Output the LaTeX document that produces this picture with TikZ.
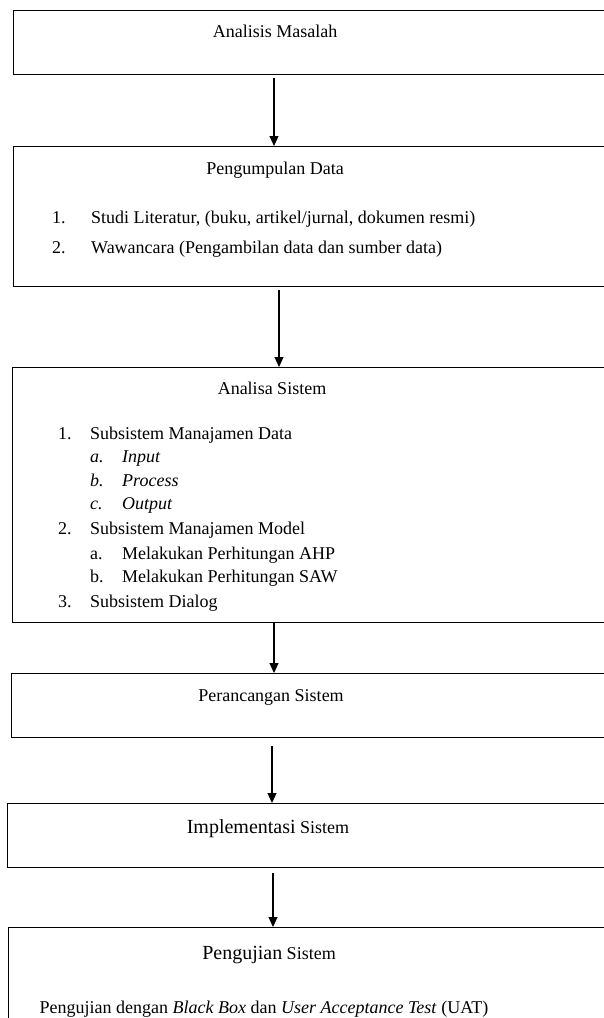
\documentclass[tikz,border=0pt]{standalone}
\usepackage{fontspec}
\setmainfont{Liberation Serif}
\usetikzlibrary{arrows.meta}

\tikzset{
  box/.style={draw, line width=1.4pt, rectangle, anchor=north west,
    minimum width=640pt, inner sep=0pt},
  txt/.style={inner sep=0pt, anchor=base, font=\fontsize{18}{22}\selectfont},
  flow/.style={-{Triangle[length=10pt,width=9pt]}, line width=1.1pt}
}

\begin{document}
\begin{tikzpicture}[x=1pt,y=-1pt]
  \useasboundingbox (0,0) rectangle (604,1018);
  \def \Boxes {
    b1/13/9.5/64.5,
    b2/13/146/140,
    b3/12/367/255,
    b4/11/673/64,
    b5/7/803/64,
    b6/8/927/130}
  \def \Flows {
    b1/b2/274/3,
    b2/b3/279/3,
    b3/b4/274/0,
    b4/b5/272/8,
    b5/b6/273/5}

  \foreach \id / \x / \y / \h in \Boxes {
    \node[box, minimum height=\h pt] (\id) at (\x, \y) {};
  }

  % judul tiap tahap
  \node[txt] (t1) at (275, 37) {Analisis Masalah};
  \node[txt] (t2) at (275, 174) {Pengumpulan Data};
  \node[txt] (t3) at (272, 394) {Analisa Sistem};
  \node[txt] (t4) at (271, 701) {Perancangan Sistem};
  \node[txt] (t5) at (268, 833) {{\fontsize{20}{24}\selectfont Implementasi} Sistem};
  \node[txt] (t6) at (269, 959) {{\fontsize{20}{24}\selectfont Pengujian} Sistem};
  \node[txt] (uat) at (264, 1013)
    {Pengujian dengan \textit{Black Box} dan \textit{User Acceptance Test} (UAT)};

  % isi pengumpulan data
  \foreach \y / \num / \t [count=\i] in {
      223/1./{Studi Literatur, (buku, artikel/jurnal, dokumen resmi)},
      253/2./{Wawancara (Pengambilan data dan sumber data)}} {
    \node[txt, anchor=base west] (pn\i) at (52, \y) {\num};
    \node[txt, anchor=base west] (p\i) at (91, \y) {\t};
  }

  % isi analisa sistem
  \foreach \x / \y / \num / \t [count=\i] in {
      58/439/1./{Subsistem Manajamen Data},
      90/462/\textit{a.}/\textit{Input},
      90/486/\textit{b.}/\textit{Process},
      90/509/\textit{c.}/\textit{Output},
      58/534/2./{Subsistem Manajamen Model},
      90/559/a./{Melakukan Perhitungan AHP},
      90/582/b./{Melakukan Perhitungan SAW},
      58/607/3./{Subsistem Dialog}} {
    \node[txt, anchor=base west] (an\i) at (\x, \y) {\num};
    \node[txt, anchor=base west] (a\i) at (\x+32, \y) {\t};
  }

  \foreach \a / \b / \x / \gap in \Flows {
    \coordinate (x\a) at (\x, 0);
    \draw[flow, shorten <=\gap pt] (\a.south -| x\a) -- (\b.north -| x\a);
  }
\end{tikzpicture}
\end{document}
